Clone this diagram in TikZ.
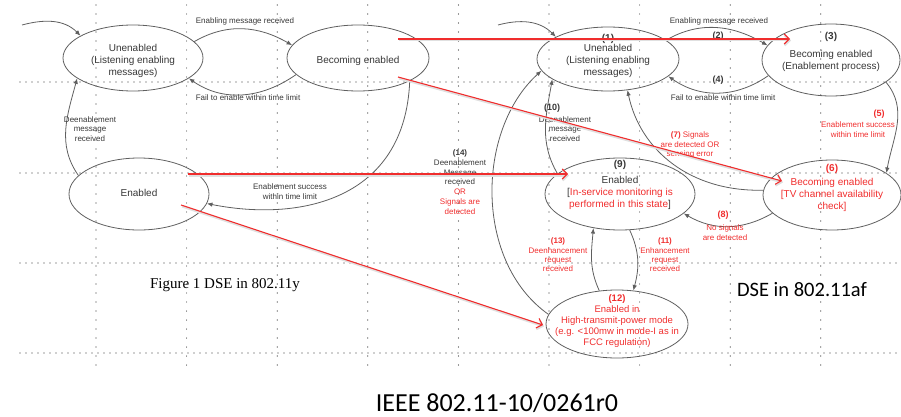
\documentclass[tikz,border=0pt]{standalone}
\usepackage{fontspec}
\setmainfont{Liberation Sans}
\newfontfamily\figserif{Liberation Serif}
\newfontfamily\slidefont{Carlito}
\usetikzlibrary{shapes.geometric, arrows.meta, positioning}
\definecolor{linegray}{RGB}{95,95,95}
\definecolor{textgray}{RGB}{55,55,55}
\definecolor{notered}{RGB}{240,45,45}
\definecolor{gridgray}{RGB}{50,50,50}

\begin{document}
\begin{tikzpicture}[
    x=1pt, y=-1pt,
    state/.style={draw=linegray, line width=0.8pt, ellipse, inner sep=0pt},
    statetext/.style={font=\fontsize{10}{12}\selectfont, text=textgray, align=center, inner sep=0pt},
    edgelabel/.style={font=\fontsize{8}{9.8}\selectfont, text=textgray, align=center, inner sep=0pt},
    redlabel/.style={edgelabel, text=notered},
    trans/.style={-{Latex[length=5.5pt,width=4.5pt]}, draw=linegray, line width=0.8pt},
    redlink/.style={-{Straight Barb[length=5pt,width=10pt]}, draw=notered, line width=1.1pt,
        preaction={draw=black!12, line width=2pt, transform canvas={shift={(1pt,-1.5pt)}}}},
    gridline/.style={draw=gridgray, line width=1.2pt, line cap=round, dash pattern=on 0pt off 6pt}
]
    \useasboundingbox (0,0) rectangle (901,417);

    % dotted page grid
    \foreach \gy in {82,173,263,353}
        \draw[gridline] (20,\gy) -- (901,\gy);
    \foreach \k in {0,...,8}
        \draw[gridline, dash pattern=on 0pt off 9pt] ({96+90.6*\k},5) -- ({96+90.6*\k},369);

    % 802.11y states
    \node[state, minimum width=140pt, minimum height=66pt,
        label={[statetext, yshift=-3pt]center:{Unenabled\\(Listening enabling\\messages)}}] (unenL) at (133,58) {};
    \node[state, minimum width=142pt, minimum height=66pt,
        label={[statetext, yshift=-3pt]center:{Becoming enabled}}] (becL) at (358,58) {};
    \node[state, minimum width=140pt, minimum height=72pt,
        label={[statetext, yshift=1pt]center:{Enabled}}] (enL) at (139,194) {};

    % 802.11af states
    \node[state, minimum width=142pt, minimum height=64pt,
        label={[statetext, yshift=3pt]center:{\textbf{(1)}\\[-2pt]Unenabled\\(Listening enabling\\messages)}}] (unenR) at (608,59) {};
    \node[state, minimum width=138pt, minimum height=72pt,
        label={[statetext, yshift=8.5pt]center:{\textbf{(3)}\\[6pt]Becoming enabled\\(Enablement process)}}] (becR) at (831,60) {};
    \node[state, minimum width=150pt, minimum height=72pt,
        label={[statetext, yshift=9pt]center:{\textbf{(9)}\\[4pt]Enabled\\{[}\textcolor{notered}{In-service monitoring is}\\\textcolor{notered}{performed in this state}{]}}}] (enR) at (620,194) {};
    \node[state, minimum width=138pt, minimum height=70pt,
        label={[statetext, text=notered, yshift=7.5pt]center:{\textbf{(6)}\\[2pt]Becoming enabled\\{[}TV channel availability\\check{]}}}] (checkR) at (832,195) {};
    \node[state, minimum width=142pt, minimum height=68pt,
        label={[statetext, font=\fontsize{9.5}{11}\selectfont, text=notered, yshift=2.5pt]center:{\textbf{(12)}\\Enabled in\\High-transmit-power mode\\(e.g. <100mw in mode-I as in\\FCC regulation)}}] (highR) at (617,324) {};

    \coordinate (initL) at (22,25);
    \coordinate (initR) at (498,25);

    % 802.11y transitions
    \draw[trans] (initL) to[out=15,in=135] (unenL.157);
    \draw[trans] (unenL.15) to[out=30,in=150] (becL.169);
    \draw[trans] (becL.195) to[out=215,in=-35] (unenL.340);
    \draw[trans] (becL.336) .. controls (405,200) and (300,222) .. (enL.-8);
    \draw[trans] (enL.163) to[out=125,in=-105] (unenL.200);

    \node[edgelabel] (lblEnL) at (245,21) {Enabling message received};
    \node[edgelabel] (lblFailL) at (248,98) {Fail to enable within time limit};
    \node[edgelabel] (lblSuccL) at (290,192) {Enablement success\\within time limit};
    \node[edgelabel] (lblDeL) at (90,129) {Deenablement\\message\\received};

    % 802.11af transitions
    \draw[trans] (initR) to[out=15,in=135] (unenR.157);
    \draw[trans] (unenR.18) to[out=30,in=150] (becR.167);
    \draw[trans] (becR.194) to[out=215,in=-35] (unenR.344);
    \draw[trans] (becR.338) to[out=-50,in=80] (checkR.22);
    \draw[trans] (checkR.176) .. controls (690,192) and (640,150) .. (unenR.-58);
    \draw[trans] (checkR.197) to[out=210,in=-30] (enR.-17);
    \draw[trans] (enR.162) to[out=120,in=-100] (unenR.200);
    \draw[trans] (highR.172) .. controls (474,262) and (476,130) .. (unenR.190);
    \draw[trans] (enR.-75) to[out=-65,in=75] (highR.64);
    \draw[trans] (highR.118) to[out=115,in=-95] (enR.232);

    \node[edgelabel] (lblEnR) at (719,21) {Enabling message received};
    \node[edgelabel, font=\fontsize{9}{10}\selectfont\bfseries] (n2) at (718,36) {(2)};
    \node[edgelabel, font=\fontsize{9}{10}\selectfont\bfseries] (n4) at (718,80) {(4)};
    \node[edgelabel] (lblFailR) at (723,98) {Fail to enable within time limit};
    \node[redlabel, font=\fontsize{9}{10}\selectfont\bfseries] (n5) at (879,114) {(5)};
    \node[redlabel] (lblSuccR) at (858,130) {Enablement success\\within time limit};
    \node[redlabel] (lblSig) at (690,145) {\textbf{(7)} Signals\\are detected OR\\sensing error};
    \node[redlabel, font=\fontsize{9}{10}\selectfont\bfseries] (n8) at (723,215) {(8)};
    \node[redlabel] (lblNoSig) at (725,233) {No signals\\are detected};
    \node[edgelabel, font=\fontsize{9}{10}\selectfont\bfseries] (n10) at (552,108) {(10)};
    \node[edgelabel] (lblDeR) at (565,129) {Deenablement\\message\\received};
    \node[edgelabel] (lblHigh) at (460,182) {\textbf{(14)}\\Deenablement\\Message\\received\\\textcolor{notered}{OR}\\\textcolor{notered}{Signals are}\\\textcolor{notered}{detected}};
    \node[redlabel, font=\fontsize{8}{9.4}\selectfont] (lblEnh) at (665,255) {\textbf{(11)}\\Enhancement\\request\\received};
    \node[redlabel, font=\fontsize{8}{9.4}\selectfont] (lblDeh) at (558,255) {\textbf{(13)}\\Deenhancement\\request\\received};

    % mapping of the old states onto the new ones
    \coordinate (becL-a) at (398,39);
    \coordinate (becR-a) at (790,39);
    \coordinate (becL-b) at (398,77);
    \coordinate (checkR-a) at (782,181);
    \coordinate (enL-a) at (188,174);
    \coordinate (enR-a) at (568,174);
    \coordinate (enL-b) at (181,205);
    \coordinate (highR-a) at (543,325);
    \draw[redlink] (becL-a) -- (becR-a);
    \draw[redlink] (becL-b) -- (checkR-a);
    \draw[redlink] (enL-a) -- (enR-a);
    \draw[redlink] (enL-b) -- (highR-a);

    % captions
    \node[font=\figserif\fontsize{15}{17}\selectfont] (capY) at (225,285) {Figure 1 DSE in 802.11y};
    \node[font=\slidefont\fontsize{20.5}{24}\selectfont] (capAf) at (802,290) {DSE in 802.11af};
    \node[font=\slidefont\fontsize{26}{30}\selectfont] (docId) at (497,403) {IEEE 802.11-10/0261r0};
\end{tikzpicture}
\end{document}
